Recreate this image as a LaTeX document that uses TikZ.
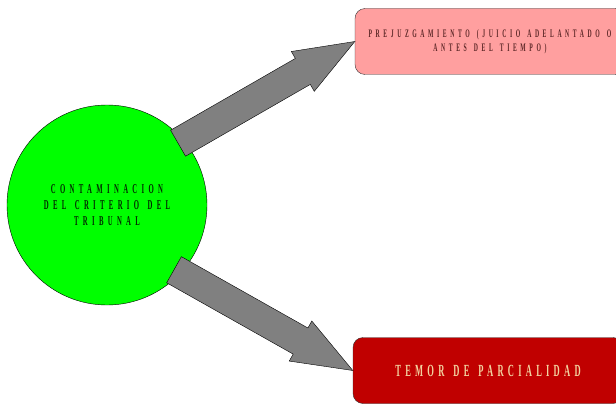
\documentclass[tikz,border=0pt]{standalone}
\usepackage{fontspec}
\usetikzlibrary{calc, positioning}
\newfontfamily\narrowfont[FakeStretch=0.5, WordSpace=1.4]{Liberation Serif}
\definecolor{ideagreen}{HTML}{00FF00}
\definecolor{ideatext}{HTML}{002A00}
\definecolor{pinkbox}{HTML}{FF9F9F}
\definecolor{pinktext}{HTML}{5E2828}
\definecolor{redbox}{HTML}{C00000}
\definecolor{redtext}{HTML}{F2D2A0}
\tikzset{
	idea/.style={circle, draw=black, thin, fill=ideagreen, minimum size=200pt, inner sep=0pt, align=center, text=ideatext,
		font=\narrowfont\bfseries\fontsize{13.5}{16}\selectfont\addfontfeature{LetterSpace=32}}, % the big green circle
	result/.style={draw=black!80, thin, rounded corners=10pt, minimum width=270pt, minimum height=66pt, align=center}, % the two boxes on the right
	bigarrow/.style={draw=black, thin, fill=gray, line join=miter}, % the fat grey arrows
}
% fat arrow from tail #1 to tip #2, head base named #3
\newcommand{\fatarrow}[3]{%
	\coordinate (#3) at ($(#2)!60pt!(#1)$);
	\draw[bigarrow] ($(#1)!15pt!90:(#2)$) -- ($(#3)!15pt!90:(#2)$) -- ($(#3)!23pt!90:(#2)$) -- (#2)
		-- ($(#3)!23pt!-90:(#2)$) -- ($(#3)!15pt!-90:(#2)$) -- ($(#1)!15pt!-90:(#2)$) -- cycle;
}
\begin{document}
\begin{tikzpicture}[x=1pt, y=-1pt]
	\useasboundingbox (0,0) rectangle (616,404);
	% the cause
	\node[idea] (Contam) at (107,205) {CONTAMINACION\\DEL CRITERIO DEL\\TRIBUNAL};
	% the two consequences
	\node[result, fill=pinkbox, text=pinktext,
		font=\narrowfont\bfseries\fontsize{11.5}{14}\selectfont\addfontfeature{LetterSpace=31}] (Prejuz) at (490,41.5)
		{PREJUZGAMIENTO (JUICIO ADELANTADO O\\ANTES DEL TIEMPO)};
	\node[result, fill=redbox, text=redtext,
		font=\narrowfont\bfseries\fontsize{17}{20}\selectfont\addfontfeature{LetterSpace=25}] (Temor) at (488,370.5)
		{TEMOR DE PARCIALIDAD};
	%% arrows
	\coordinate (TailUp) at ($(Contam.center)!0.94!(Contam.41)$);
	\coordinate (TailDown) at ($(Contam.center)!0.93!(Contam.-44)$);
	\fatarrow{TailUp}{Prejuz.west}{HeadUp}
	\fatarrow{TailDown}{Temor.west}{HeadDown}
\end{tikzpicture}
\end{document}
